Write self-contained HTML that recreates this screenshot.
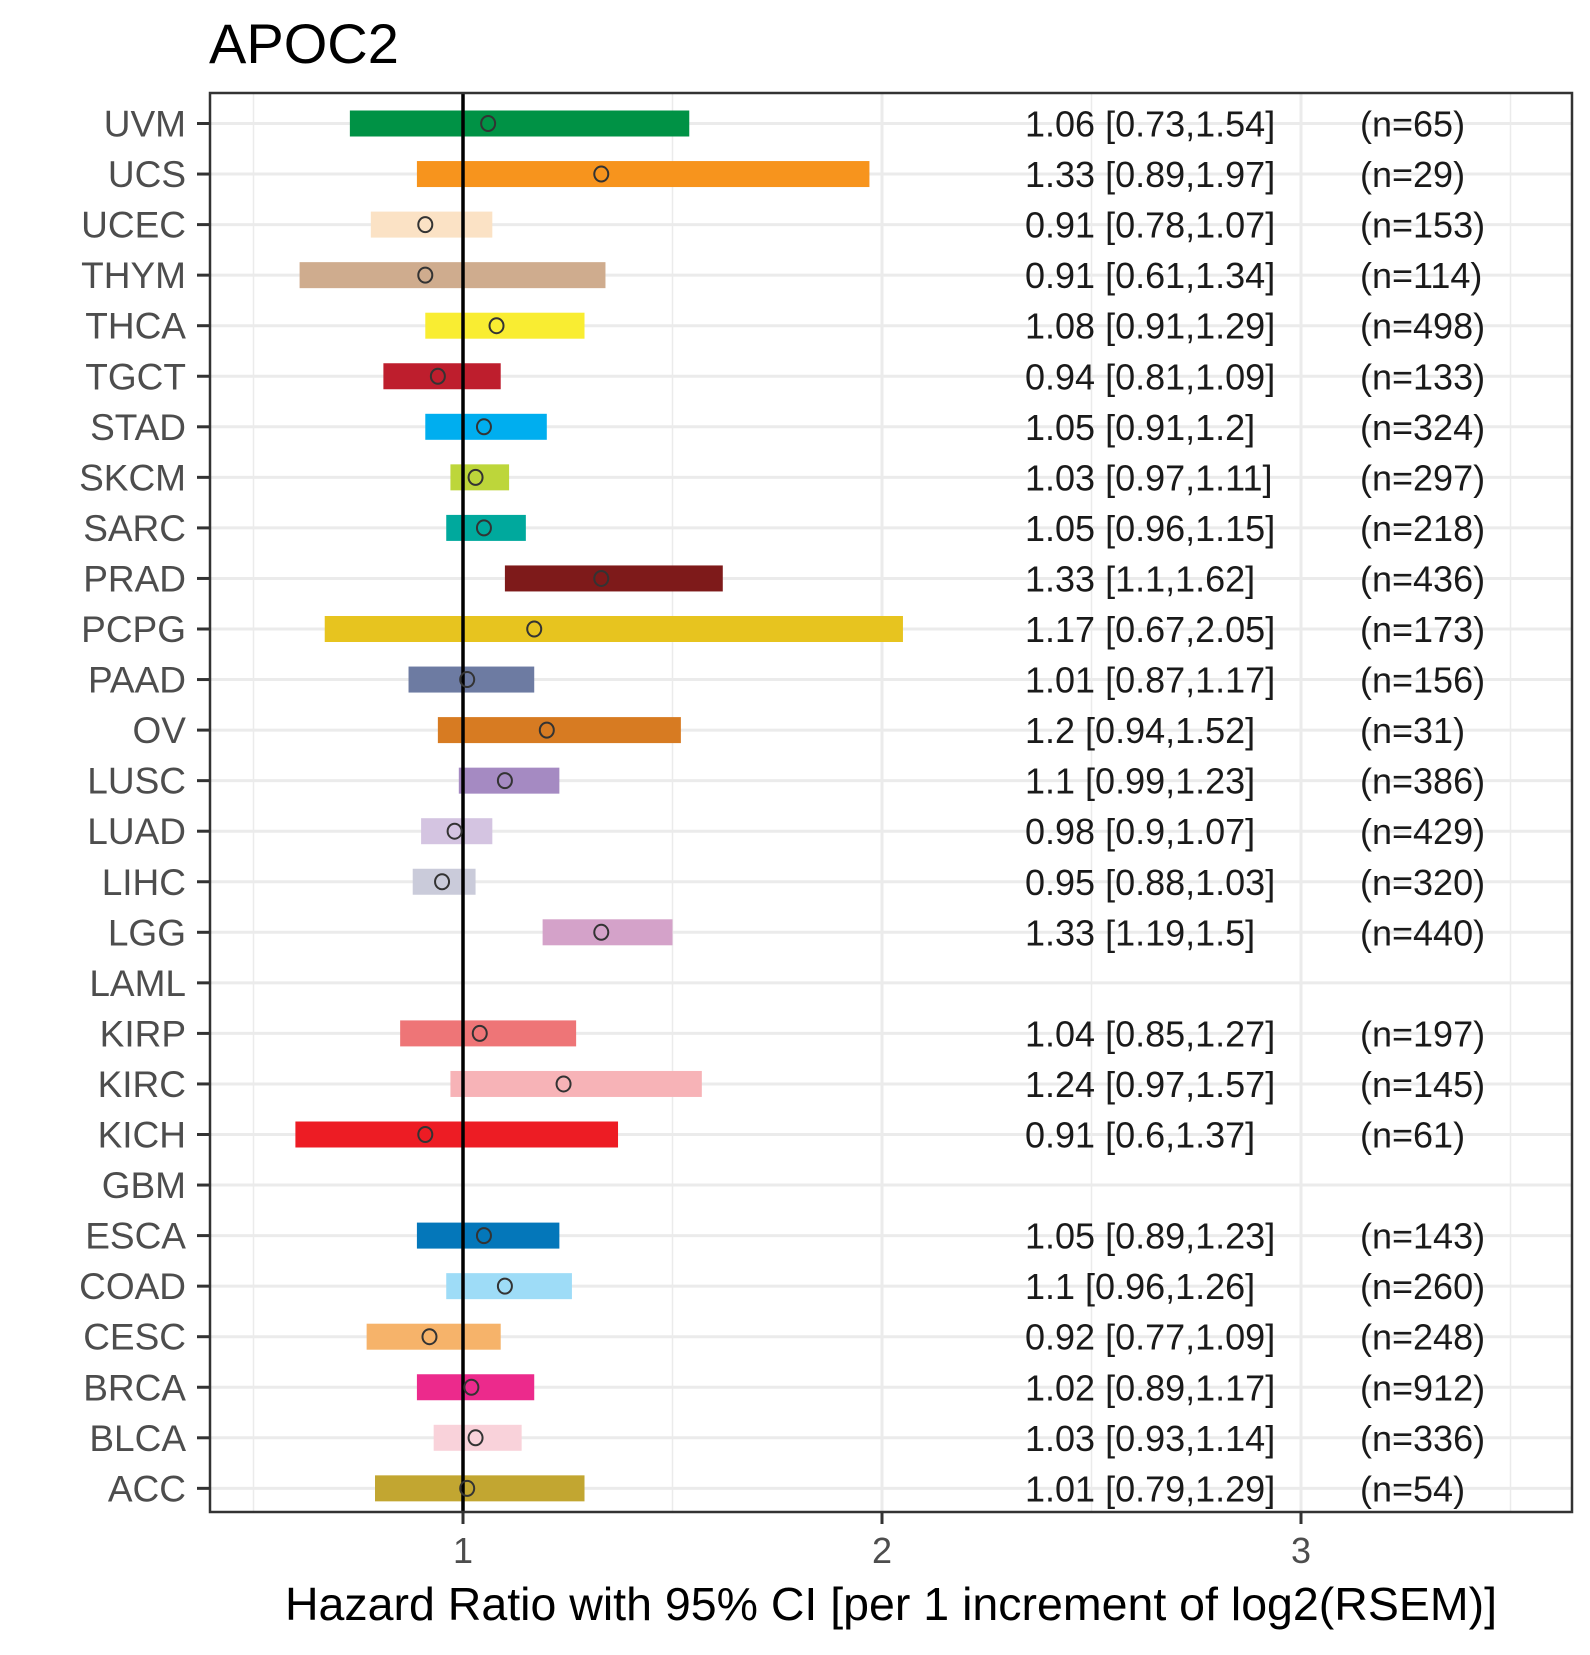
<!DOCTYPE html>
<html><head><meta charset="utf-8"><style>
html,body{margin:0;padding:0;background:#fff;}
svg text{font-family:"Liberation Sans",Arial,sans-serif;}
</style></head><body>
<svg id="chart" width="1590" height="1650" viewBox="0 0 1590 1650" xmlns="http://www.w3.org/2000/svg">
<text x="209" y="63" font-size="56" fill="#000">APOC2</text>
<g id="grid"></g><g id="bars"></g><g id="texts"></g><g id="axes"></g>
<text x="891" y="1620" font-size="46.5" fill="#000" text-anchor="middle">Hazard Ratio with 95% CI [per 1 increment of log2(RSEM)]</text>
</svg>
<script>
const cancers=["UVM","UCS","UCEC","THYM","THCA","TGCT","STAD","SKCM","SARC","PRAD","PCPG","PAAD","OV","LUSC","LUAD","LIHC","LGG","LAML","KIRP","KIRC","KICH","GBM","ESCA","COAD","CESC","BRCA","BLCA","ACC"];
const hr=[1.06,1.33,0.91,0.91,1.08,0.94,1.05,1.03,1.05,1.33,1.17,1.01,1.2,1.1,0.98,0.95,1.33,null,1.04,1.24,0.91,null,1.05,1.1,0.92,1.02,1.03,1.01];
const lo=[0.73,0.89,0.78,0.61,0.91,0.81,0.91,0.97,0.96,1.1,0.67,0.87,0.94,0.99,0.9,0.88,1.19,null,0.85,0.97,0.6,null,0.89,0.96,0.77,0.89,0.93,0.79];
const hi=[1.54,1.97,1.07,1.34,1.29,1.09,1.2,1.11,1.15,1.62,2.05,1.17,1.52,1.23,1.07,1.03,1.5,null,1.27,1.57,1.37,null,1.23,1.26,1.09,1.17,1.14,1.29];
const nSamples=[65,29,153,114,498,133,324,297,218,436,173,156,31,386,429,320,440,null,197,145,61,null,143,260,248,912,336,54];
const colors=["#009245","#F7941D","#FBE2C5","#CFAC8E","#F9ED32","#BE1E2D","#00AEEF","#BDD63A","#00A99D","#7E1A1A","#E7C41F","#6D7BA2","#D77B22","#A58AC2","#D4C4E1","#CACBDA","#D4A2C9","#999999","#EE7577","#F7B3B7","#ED1C24","#999999","#0477BA","#9EDCF7","#F6B36A","#EC2A8C","#F9D2DA","#C2A631"];
const xTicks=[1,2,3];
const xMinor=[0.5,1.5,2.5,3.5];
const NS="http://www.w3.org/2000/svg";
const L=210,R=1572,T=93,B=1512;
function xs(v){return 463+(v-1)*419;}
function ys(i){return 123.5+i*50.55;}
function mk(tag,attrs,parent,txt){const e=document.createElementNS(NS,tag);for(const k in attrs)e.setAttribute(k,attrs[k]);if(txt!==undefined)e.textContent=txt;parent.appendChild(e);return e;}
const grid=document.getElementById('grid'),bars=document.getElementById('bars'),texts=document.getElementById('texts'),axes=document.getElementById('axes');
xMinor.forEach(v=>{const e=mk('line',{x1:xs(v),x2:xs(v),y1:T,y2:B,stroke:'#EBEBEB','stroke-width':1.5},grid);

});
xTicks.forEach(v=>{const e=mk('line',{x1:xs(v),x2:xs(v),y1:T,y2:B,stroke:'#EBEBEB','stroke-width':3},grid);

});
cancers.forEach((c,i)=>{const e=mk('line',{x1:L,x2:R,y1:ys(i),y2:ys(i),stroke:'#EBEBEB','stroke-width':3},grid);

});
cancers.forEach((c,i)=>{
 const y=ys(i);
 const lab=mk('text',{x:186,y:y+13,'font-size':37,fill:'#4D4D4D','text-anchor':'end'},axes,c);
 
 
 const tk=mk('line',{x1:197,x2:210,y1:y,y2:y,stroke:'#333','stroke-width':3},axes);
 
 
 if(hr[i]===null)return;
 const r=mk('rect',{x:xs(lo[i]),y:y-13,width:xs(hi[i])-xs(lo[i]),height:26,fill:colors[i]},bars);
 
 
 const t1=mk('text',{x:1025,y:y+13,'font-size':36,fill:'#1a1a1a'},texts,hr[i]+' ['+lo[i]+','+hi[i]+']');
 
 
 const t2=mk('text',{x:1360,y:y+13,'font-size':36,fill:'#1a1a1a'},texts,'(n='+nSamples[i]+')');
 
 
});
const vl=mk('line',{x1:xs(1),x2:xs(1),y1:T,y2:B,stroke:'#000','stroke-width':3.5},bars);


cancers.forEach((c,i)=>{if(hr[i]===null)return;
 const p=mk('ellipse',{cx:xs(hr[i]),cy:ys(i),rx:7,ry:7.5,fill:'none',stroke:'#333','stroke-width':2},bars);
 
 });
const border=mk('rect',{x:L,y:T,width:R-L,height:B-T,fill:'none',stroke:'#333','stroke-width':2.5},axes);


xTicks.forEach(v=>{
 const t=mk('line',{x1:xs(v),x2:xs(v),y1:B,y2:B+12,stroke:'#333','stroke-width':3},axes);
 
 
 const l=mk('text',{x:xs(v),y:1563,'font-size':36,fill:'#4D4D4D','text-anchor':'middle'},axes,String(v));
 
 });
</script>
</body></html>
